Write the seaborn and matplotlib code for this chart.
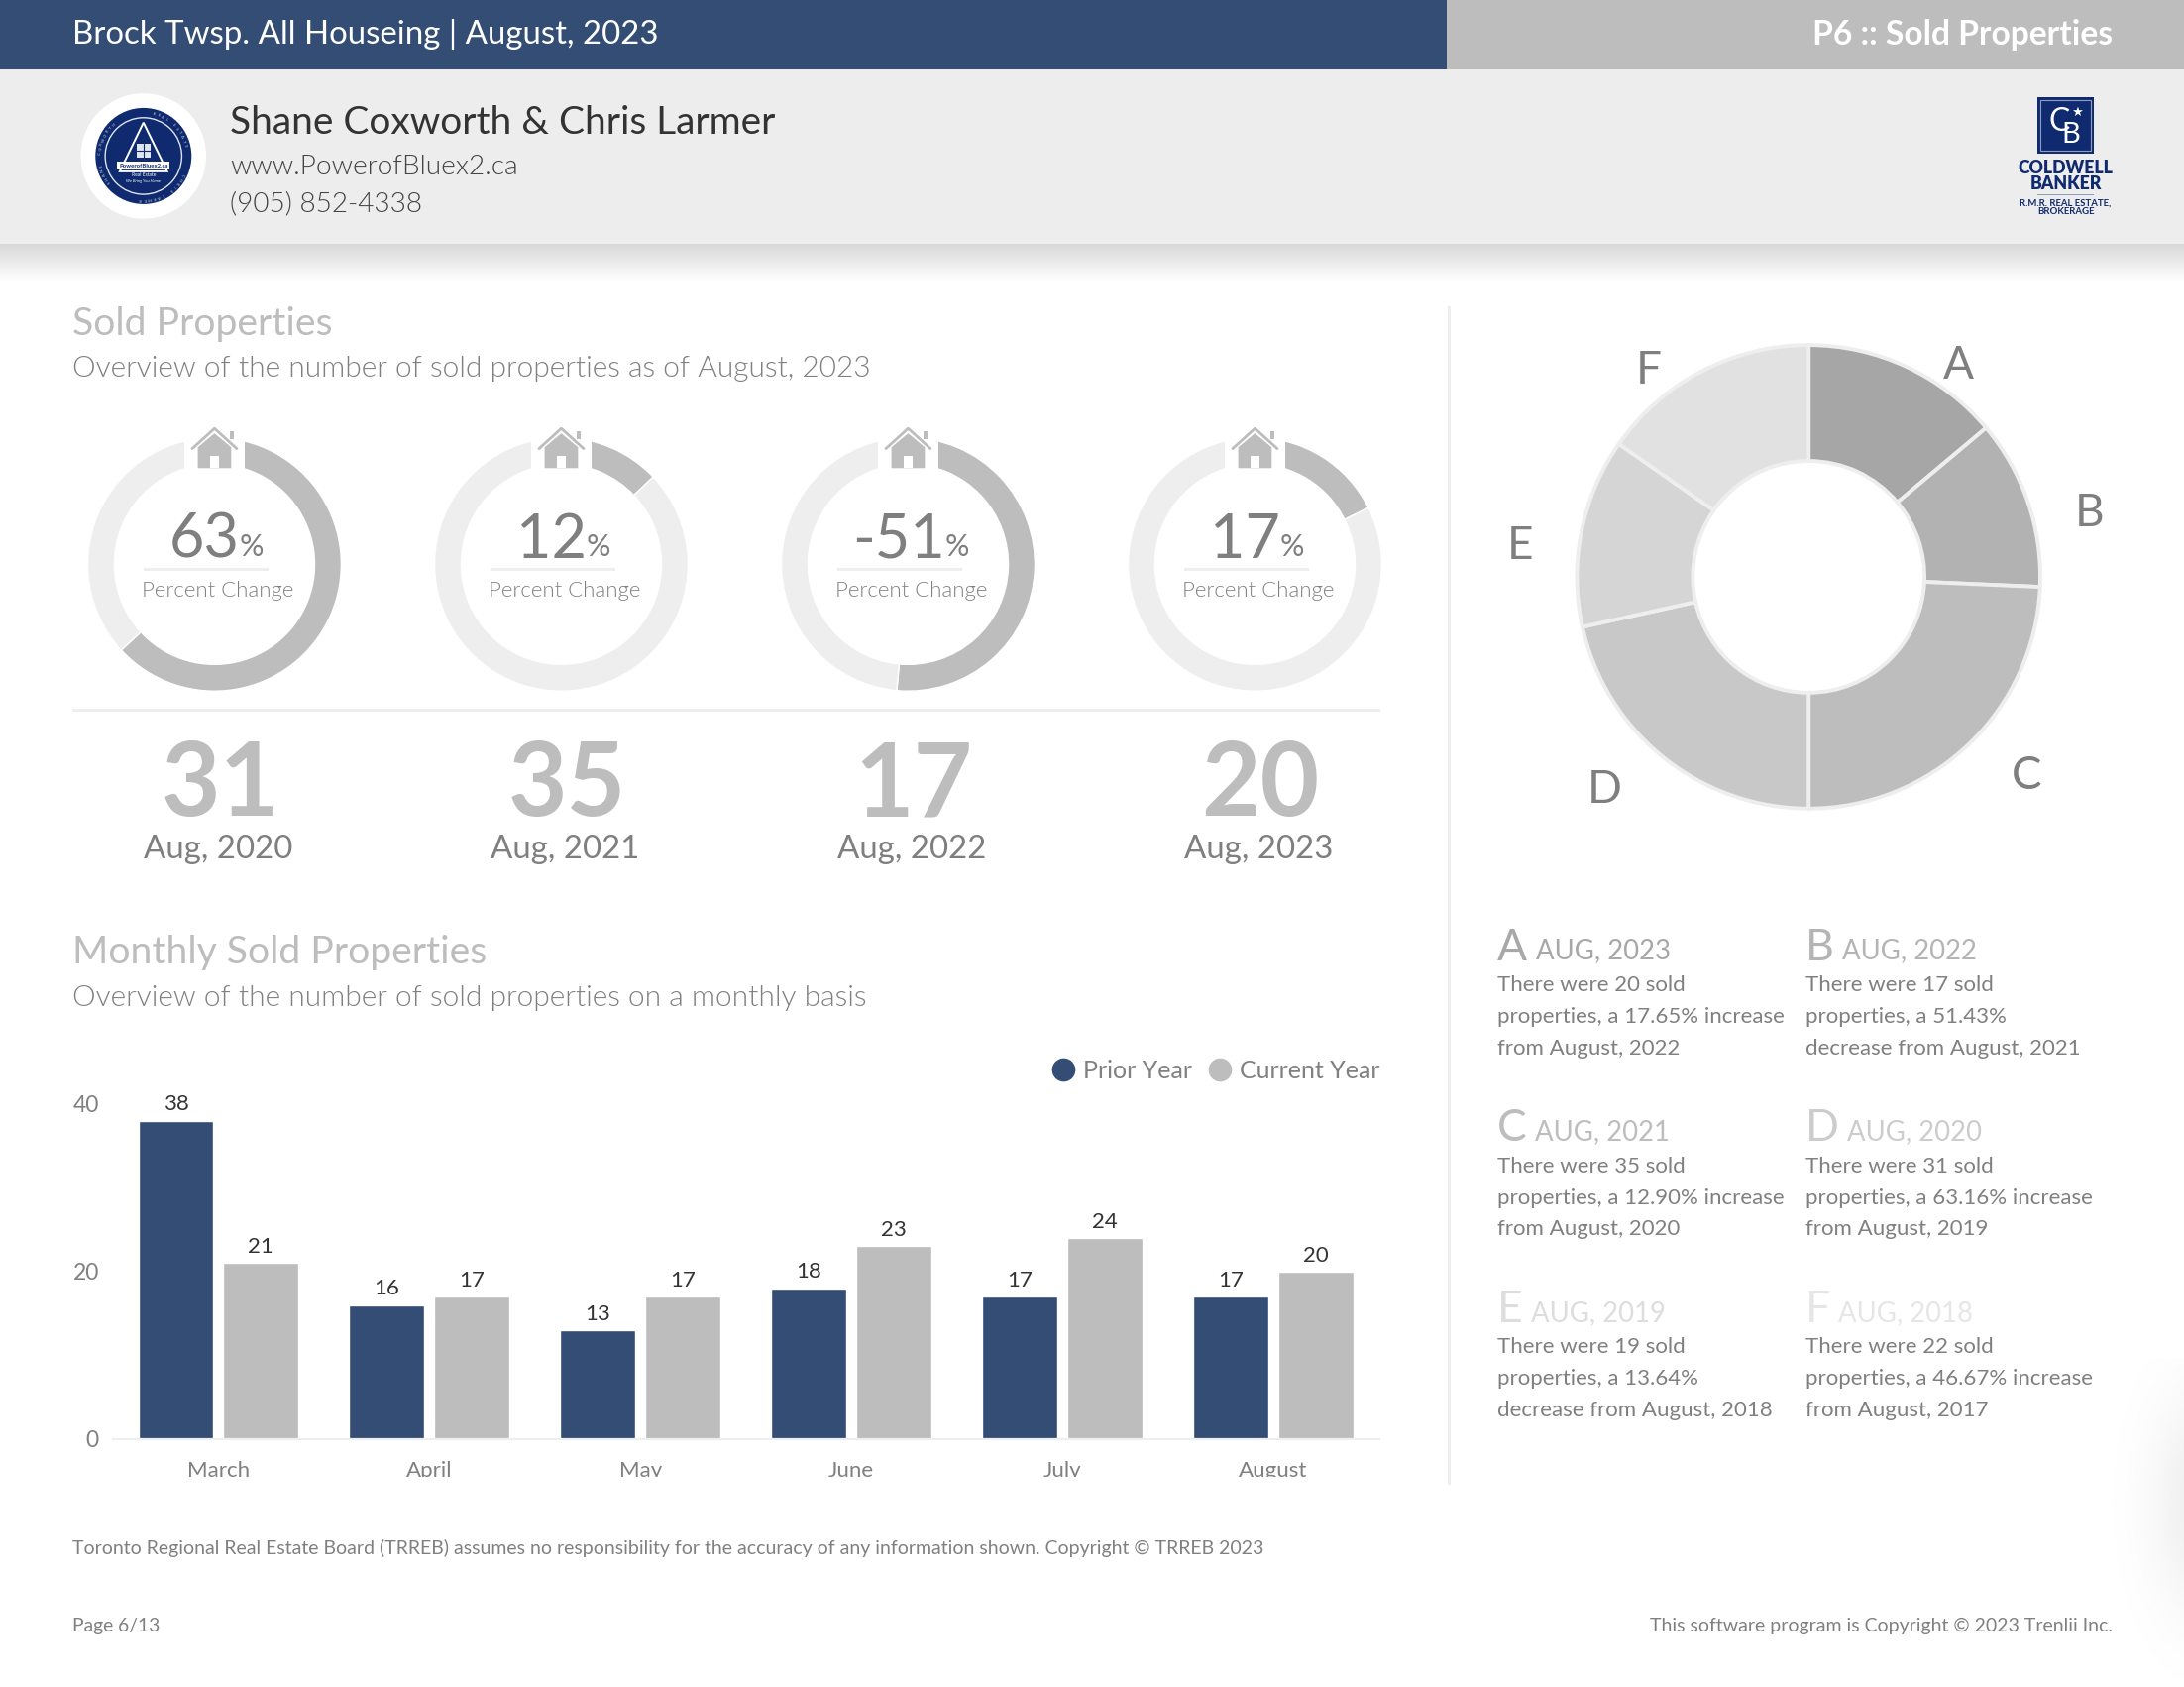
import numpy as np
import pandas as pd
import seaborn as sns
import matplotlib.pyplot as plt
from matplotlib.lines import Line2D
from matplotlib.patches import Circle, Polygon, Rectangle

# data
months = ['March', 'April', 'May', 'June', 'July', 'August']
prior_year = [38, 16, 13, 18, 17, 17]
current_year = [21, 17, 17, 23, 24, 20]

gauge_pct = [63, 12, -51, 17]
gauge_fill = [63.16, 12.90, 51.43, 17.65]
gauge_sold = [31, 35, 17, 20]
gauge_years = ['Aug, 2020', 'Aug, 2021', 'Aug, 2022', 'Aug, 2023']

pie_labels = ['A', 'B', 'C', 'D', 'E', 'F']
pie_values = [20, 17, 35, 31, 19, 22]
pie_colors = ['#a6a6a6', '#b2b2b2', '#bdbdbd', '#c8c8c8', '#d5d5d5', '#e1e1e1']
note_years = ['AUG, 2023', 'AUG, 2022', 'AUG, 2021', 'AUG, 2020', 'AUG, 2019', 'AUG, 2018']
note_colors = ['#a8a8a8', '#b4b4b4', '#bdbdbd', '#cccccc', '#dddddd', '#e6e6e6']
note_text = [
    ['There were 20 sold', 'properties, a 17.65% increase', 'from August, 2022'],
    ['There were 17 sold', 'properties, a 51.43%', 'decrease from August, 2021'],
    ['There were 35 sold', 'properties, a 12.90% increase', 'from August, 2020'],
    ['There were 31 sold', 'properties, a 63.16% increase', 'from August, 2019'],
    ['There were 19 sold', 'properties, a 13.64%', 'decrease from August, 2018'],
    ['There were 22 sold', 'properties, a 46.67% increase', 'from August, 2017'],
]

BLUE = '#334d75'
GREY = '#bdbdbd'
PALE = '#eeeeee'
TEXT = '#808080'
NAVY = '#0f2a6e'
LIGHT = 300

sns.set_theme(style='white')
plt.rcParams['font.family'] = ['Lato', 'DejaVu Sans']

W, H = 1568, 1702 * 1568 / 2204
fig = plt.figure(figsize=(22.04, 17.02), dpi=100, facecolor='white')


def box(x0, y0, x1, y1):
    # page position (in the 1568 wide layout) to figure fractions
    return [x0 / W, 1 - y1 / H, (x1 - x0) / W, (y1 - y0) / H]


# bar chart
df = pd.DataFrame({
    'month': months * 2,
    'sold': prior_year + current_year,
    'series': ['Prior Year'] * 6 + ['Current Year'] * 6,
})
ax = fig.add_axes(box(81, 792.3, 990, 1033))
sns.barplot(data=df, x='month', y='sold', hue='series', ax=ax, width=0.805, gap=0.115,
            palette={'Prior Year': BLUE, 'Current Year': GREY}, saturation=1)
ax.set_xlim(-0.5, 5.5)
ax.set_ylim(0, 40)
ax.set_yticks([0, 20, 40])
ax.set_xlabel('')
ax.set_ylabel('')
ax.patch.set_alpha(0)
sns.despine(ax=ax, left=True)
ax.spines['bottom'].set_color(PALE)
ax.spines['bottom'].set_linewidth(1.6)
ax.tick_params(axis='x', length=0, pad=15.5, labelsize=16, labelcolor=TEXT)
ax.tick_params(axis='y', length=0, pad=10, labelsize=16.5, labelcolor=TEXT)
for c in ax.containers:
    ax.bar_label(c, padding=4.5, fontsize=16, color='#333333')
handles = [Line2D([], [], ls='', marker='o', ms=16, color=BLUE),
           Line2D([], [], ls='', marker='o', ms=16, color=GREY)]
ax.legend(handles, ['Prior Year', 'Current Year'], ncol=2, frameon=False,
          loc='lower right', bbox_to_anchor=(1.001, 1.065), fontsize=18, labelcolor=TEXT,
          handlelength=1, handletextpad=0.3, columnspacing=0.62, borderaxespad=0, borderpad=0)

# small gauges
gauge_x = [154, 403, 652, 901]
for cx, fill in zip(gauge_x, gauge_fill):
    gax = fig.add_axes(box(cx - 91, 405 - 91, cx + 91, 405 + 91))
    gax.pie([fill, 100 - fill], colors=[GREY, PALE], startangle=90, counterclock=False,
            radius=1, wedgeprops={'width': 0.21})
    gax.set_xlim(-1, 1)
    gax.set_ylim(-1, 1)

# donut
pax = fig.add_axes(box(1298.5 - 168, 414 - 168, 1298.5 + 168, 414 + 168))
pax.pie(pie_values, colors=pie_colors, startangle=90, counterclock=False, radius=1,
        wedgeprops={'width': 0.5, 'edgecolor': PALE, 'linewidth': 2.8})
pax.set_xlim(-1.01, 1.01)
pax.set_ylim(-1.01, 1.01)

# page layer on top: everything around the charts
ov = fig.add_axes([0, 0, 1, 1], facecolor='none')
ov.axis('off')


def txt(x, y, s, size, color=TEXT, weight='normal', ha='left', **kw):
    # va center sits a bit high for this font, more so for large sizes
    return ov.text(x, y + 0.07 * size, s, fontsize=size, color=color, fontweight=weight,
                   ha=ha, va='center', **kw)


def small(x, y, s, size, color, weight='normal', **kw):
    return ov.text(x, y, s, fontsize=size, color=color, fontweight=weight, ha='center', va='center', **kw)


def rect(x0, y0, x1, y1, color, z=1):
    ov.add_patch(Rectangle((x0, y0), x1 - x0, y1 - y0, fc=color, ec='none', zorder=z))


def arc_text(cx, cy, r, s, mid_deg, step, size, color):
    # letters round a circle, angles clockwise from the top
    for k, ch in enumerate(s):
        a = np.radians(mid_deg + (k - (len(s) - 1) / 2) * step)
        small(cx + r * np.sin(a), cy - r * np.cos(a), ch, size, color,
              rotation=-np.degrees(a), rotation_mode='anchor', zorder=5)


rect(0, 0, 1039, 50, BLUE)
rect(1039, 0, W, 50, GREY)
rect(0, 50, W, 175, '#ededed')
ov.imshow(np.linspace(0.84, 1, 40)[:, None], cmap='gray', vmin=0, vmax=1, aspect='auto',
          extent=(0, W, 203, 175), zorder=0)

# faint smudge at the right edge of the page
gx, gy = np.meshgrid(np.linspace(1500, W, 70), np.linspace(975, 1205, 120))
smudge = 1 - 0.07 * np.exp(-((gx - 1585) / 28) ** 2 / 2 - ((gy - 1079) / 55) ** 2 / 2)
ov.imshow(smudge, cmap='gray', vmin=0, vmax=1, aspect='auto', extent=(1500, W, 1205, 975), zorder=0)

ov.set_xlim(0, W)
ov.set_ylim(H, 0)

txt(52, 23, 'Brock Twsp. All Houseing | August, 2023', 23.8, 'white')
txt(1517, 23, 'P6 :: Sold Properties', 24.2, 'white', 'bold', ha='right')
txt(165, 86, 'Shane Coxworth & Chris Larmer', 28, '#333333')
txt(165, 118.5, 'www.PowerofBluex2.ca', 20.2, '#444444', LIGHT)
txt(165, 145, '(905) 852-4338', 20.2, '#444444', LIGHT)

# left logo
ov.add_patch(Circle((103, 112), 45, fc='white', ec='none', zorder=2))
ov.add_patch(Circle((103, 112), 34.5, fc=NAVY, ec='none', zorder=3))
ov.add_patch(Circle((103, 112), 27.5, fc='none', ec='#dfe4ef', lw=1, zorder=4))
ov.add_patch(Polygon([(103, 88), (86, 123), (120, 123)], fc='none', ec='white', lw=1.4, zorder=4))
rect(98, 103, 108, 113, '#dfe4ef', 4)
ov.plot([103, 103], [103, 113], color=NAVY, lw=0.8, zorder=5)
ov.plot([98, 108], [108, 108], color=NAVY, lw=0.8, zorder=5)
rect(84, 116, 122, 122, 'white', 4)
small(103, 119, 'PowerofBluex2.ca', 4.3, NAVY, 'bold', zorder=5)
small(103, 125.5, 'Real Estate', 3.6, 'white', zorder=5)
small(103, 130.5, 'We Bring You Home', 3, 'white', style='italic', zorder=5)
arc_text(103, 112, 31, 'REAL ESTATE', 45, 6.2, 3, '#c9d1e6')
arc_text(103, 112, 31, 'COXWORTH', 295, 6.2, 3, '#c9d1e6')
arc_text(103, 112, 31, 'SHANE', 245, 6.2, 3, '#c9d1e6')
arc_text(103, 112, 31, 'CHRIS LARMER', 150, 6.2, 3, '#c9d1e6')

# right logo
rect(1463, 70, 1503, 110, NAVY, 2)
ov.add_patch(Rectangle((1465, 72), 36, 36, fc='none', ec='#8f9cc0', lw=0.8, zorder=3))
small(1478.5, 87.5, 'C', 23, 'white', zorder=3)
small(1486.5, 97, 'B', 21, 'white', zorder=3)
small(1491, 80.5, '\u2605', 9.5, 'white', family='DejaVu Sans', zorder=3)
small(1483, 120.5, 'COLDWELL', 12.7, NAVY, 'heavy')
small(1483, 132, 'BANKER', 12.7, NAVY, 'heavy')
rect(1463, 139.5, 1503, 140.5, '#8f9cc0', 2)
small(1483, 146, 'R.M.R. REAL ESTATE,', 6.9, NAVY, 'bold')
small(1483, 152, 'BROKERAGE', 6.9, NAVY, 'bold')

# headings
txt(52, 231, 'Sold Properties', 28.2, GREY)
txt(52, 263, 'Overview of the number of sold properties as of August, 2023', 21.5, TEXT, LIGHT)
txt(52, 682, 'Monthly Sold Properties', 28.2, GREY)
txt(52, 715, 'Overview of the number of sold properties on a monthly basis', 21.5, TEXT, LIGHT)

rect(52, 509, 991, 511, PALE)
rect(1039.5, 220, 1041.5, 1066, PALE)

# gauge texts and house icons
renderer = fig.canvas.get_renderer()
for cx, pct, sold, year in zip(gauge_x, gauge_pct, gauge_sold, gauge_years):
    rect(cx - 22, 300, cx + 22, 337, 'white', 2)
    ov.add_patch(Polygon([(cx, 311), (cx + 12, 321), (cx + 12, 336), (cx - 12, 336), (cx - 12, 321)],
                         fc=GREY, ec='none', zorder=3))
    rect(cx - 3.5, 327, cx + 3.5, 336, 'white', 4)
    ov.plot([cx - 16, cx, cx + 16], [322, 307.5, 322], color=GREY, lw=2, zorder=3)
    rect(cx + 11, 309.5, cx + 13.6, 315, GREY, 3)

    num = txt(cx, 385, str(pct), 44, '#7f7f7f')
    w = num.get_window_extent(renderer).width * W / 2204
    x0 = cx + 2.5 - (w + 19) / 2
    num.set_x(x0)
    txt(x0 + w, 391.5, '%', 22, '#7f7f7f')
    rect(cx - 51, 407.5, cx + 39, 409.5, PALE)
    txt(cx + 2.5, 423, 'Percent Change', 16, TEXT, LIGHT, ha='center')
    txt(cx + 4, 559, str(sold), 74, GREY, 'bold', ha='center')
    txt(cx + 2.5, 608, year, 23.8, '#7f7f7f', ha='center')

# donut letters
label_xy = [(1406, 260), (1500, 366), (1455, 555), (1152, 565), (1091, 390), (1184, 264)]
for lab, (x, y) in zip(pie_labels, label_xy):
    txt(x, y, lab, 33, '#7f7f7f', ha='center')

# notes under the donut
note_x = [1075, 1296]
for i, lab in enumerate(pie_labels):
    x = note_x[i % 2]
    y = 678 + 130 * (i // 2)
    head = txt(x, y, lab, 32, note_colors[i])
    w = head.get_window_extent(renderer).width * W / 2204
    txt(x + w + 6, y + 3, note_years[i], 19.8, note_colors[i])
    for j, line in enumerate(note_text[i]):
        txt(x, y + 28 + 22.7 * j, line, 16, TEXT)

# cuts off the month labels like the source does
rect(78, 1060, 1000, 1080, 'white', 5)

txt(52, 1110, 'Toronto Regional Real Estate Board (TRREB) assumes no responsibility for the accuracy of any '
    'information shown. Copyright \u00a9 TRREB 2023', 14, TEXT)
txt(52, 1166, 'Page 6/13', 13.9, TEXT)
txt(1517, 1166, 'This software program is Copyright \u00a9 2023 Trenlii Inc.', 14, TEXT, ha='right')

fig.savefig('out.png', dpi=100)
